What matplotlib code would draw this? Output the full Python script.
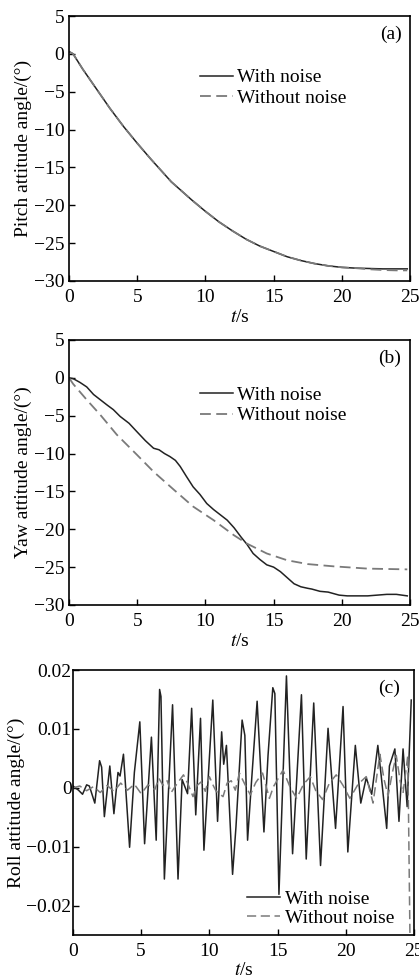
import numpy as np
import matplotlib
matplotlib.use("Agg")
import matplotlib.pyplot as plt

plt.rcParams['font.family'] = ['Liberation Serif', 'DejaVu Serif']
plt.rcParams['mathtext.fontset'] = 'stix'
plt.rcParams['font.size'] = 14

# ---- data ----
# (a) pitch
t_pitch = [0, 0.3, 1, 2, 3, 4, 5, 6, 7, 7.5, 8, 9, 10, 11, 12, 13, 14, 15, 16, 17,
           18, 19, 20, 21, 22, 23, 24, 24.8]
pitch_noise = [0.3, 0.0, -2.0, -4.6, -7.2, -9.6, -11.8, -13.9, -15.9, -16.9, -17.7,
               -19.3, -20.8, -22.2, -23.4, -24.5, -25.4, -26.1, -26.8, -27.3, -27.7,
               -28.0, -28.2, -28.3, -28.35, -28.4, -28.4, -28.4]
pitch_clean = [0.3, 0.0, -2.0, -4.6, -7.2, -9.6, -11.8, -13.9, -15.9, -16.9, -17.7,
               -19.3, -20.8, -22.2, -23.4, -24.5, -25.4, -26.1, -26.8, -27.3, -27.7,
               -28.0, -28.2, -28.3, -28.45, -28.55, -28.6, -28.6]

# (b) yaw
t_yaw_n = [0, 0.3, 0.8, 1.3, 1.8, 2.3, 2.8, 3.25, 3.75, 4.4, 4.97, 5.6, 6.2, 6.6, 7.0,
           7.4, 7.8, 8.15, 8.6, 9.1, 9.6, 10.1, 10.6, 11.1, 11.6, 12.1, 12.6, 13.05,
           13.5, 14.0, 14.5, 15.0, 15.5, 16.0, 16.5, 17.0, 17.5, 17.8, 18.4, 19.0,
           19.4, 19.8, 20.4, 21.0, 21.9, 22.6, 23.3, 24.0, 24.8]
yaw_noise = [0, -0.1, -0.6, -1.2, -2.2, -2.9, -3.6, -4.2, -5.1, -6.0, -7.1, -8.3, -9.3,
             -9.5, -10.0, -10.4, -10.9, -11.7, -13.0, -14.4, -15.4, -16.6, -17.4, -18.1,
             -18.8, -19.8, -21.0, -22.0, -23.2, -24.0, -24.7, -25.0, -25.6, -26.4, -27.2,
             -27.6, -27.8, -27.9, -28.2, -28.3, -28.5, -28.7, -28.8, -28.8, -28.8, -28.7,
             -28.6, -28.6, -28.8]
t_yaw_c = [0, 0.3, 1.3, 2.3, 3.5, 5, 6.2, 7.7, 9.1, 10.6, 12.1, 13.05, 14.5, 16, 17.5,
           19.4, 21.9, 24.8]
yaw_clean = [0, -0.8, -2.9, -4.9, -7.5, -10.2, -12.4, -14.8, -17.0, -18.8, -20.8, -21.9,
             -23.2, -24.1, -24.6, -24.9, -25.2, -25.3]

# (c) roll, in units of 0.001 deg
t_roll_n = [0, 0.4, 0.7, 1.0, 1.2, 1.6, 1.95, 2.1, 2.3, 2.7, 3.0, 3.3, 3.45, 3.7, 4.15,
            4.5, 4.9, 5.25, 5.75, 6.1, 6.35, 6.45, 6.7, 7.3, 7.7, 8.0, 8.4, 8.7, 9.0,
            9.35, 9.6, 10.25, 10.6, 10.9, 11.05, 11.25, 11.7, 11.95, 12.4, 12.6, 12.8,
            13.1, 13.5, 14.0, 14.3, 14.65, 14.8, 15.1, 15.65, 16.1, 16.75, 17.1, 17.65,
            18.15, 18.7, 19.25, 19.8, 20.15, 20.7, 21.1, 21.5, 21.9, 22.35, 22.6, 23.0,
            23.2, 23.6, 23.9, 24.2, 24.5, 24.8]
roll_noise = [0.3, -0.4, -1.1, 0.5, 0.3, -2.6, 4.6, 3.5, -4.9, 3.7, -4.4, 2.6, 2.0, 5.7,
              -10.1, 2.6, 11.2, -9.5, 8.6, -8.9, 16.7, 15.5, -15.5, 14.1, -15.5, 1.4,
              -1.0, 13.5, -4.6, 11.8, -10.6, 14.9, -5.7, 9.5, 4.0, 7.2, -14.7, -6.6, 11.5,
              8.9, -8.9, 1.4, 14.7, -7.5, 5.5, 17.0, 16.0, -18.1, 19.0, -11.2, 15.8,
              -12.1, 14.4, -13.2, 10.1, -6.9, 13.8, -10.9, 7.2, -2.6, 1.7, -1.1, 7.2,
              2.0, -6.9, 3.7, 6.6, -5.7, 6.6, -3.2, 14.9]
t_roll_c = [0, 0.5, 1.0, 1.5, 2.0, 2.5, 3.0, 3.5, 4.0, 4.5, 5.0, 5.5, 6.0, 6.3, 6.6, 6.9,
            7.2, 7.6, 8.1, 8.4, 8.8, 9.1, 9.4, 9.7, 10.0, 10.3, 10.5, 11.0, 11.3, 11.6,
            11.9, 12.2, 12.6, 13.0, 13.4, 13.9, 14.4, 14.7, 14.9, 15.4, 15.9, 16.4,
            16.9, 17.4, 17.8, 18.3, 18.8, 19.3, 19.8, 20.3, 20.9, 21.5, 22.0, 22.5,
            22.8, 23.1, 23.4, 23.7, 24.0, 24.2, 24.55, 24.73]
roll_clean = [0, 0.3, -0.5, 0.2, -0.8, 0.4, -0.6, 0.8, -0.4, 0.6, -1.0, 0.5, -0.3, 1.6,
              0.4, 1.2, -0.8, 0.6, 2.2, 0.8, -1.5, 0.4, 1.0, -0.6, 1.9, 0.3, -0.6, -1.5,
              0.8, 1.2, -0.4, 2.5, 0.6, -1.2, 0.9, 2.5, -1.8, 0.2, 1.0, 3.0, 0.2, -1.8,
              0.6, 1.9, -0.5, -2.0, 0.8, 2.2, 0.4, -1.8, 0.6, 1.9, -2.6, 5.7, 1.5, -1.4,
              2.4, 5.5, 1.0, -0.9, 5.5, -30.0]

c_noise = '#222222'
c_clean = '#7a7a7a'
dash = (0, (6, 3))


def style(ax):
    ax.tick_params(direction='in', length=4, width=1, top=False, right=False)
    ax.tick_params(axis='x', pad=6)
    for s in ax.spines.values():
        s.set_linewidth(1.2)


fig = plt.figure(figsize=(4.19, 9.77), dpi=100)

# (a)
ax1 = fig.add_axes([0.1647, 0.7124, 0.8138, 0.2712])
ax1.plot(t_pitch, pitch_noise, color=c_noise, lw=1.1, label='With noise')
ax1.plot(t_pitch, pitch_clean, color=c_clean, lw=1.3, ls=dash, label='Without noise')
ax1.set_xlim(0, 25)
ax1.set_ylim(-30, 5)
ax1.set_xticks([0, 5, 10, 15, 20, 25])
ax1.set_yticks([5, 0, -5, -10, -15, -20, -25, -30])
ax1.set_xlabel('$t$/s', labelpad=2)
ax1.set_ylabel('Pitch attitude angle/(°)', labelpad=1)
ax1.legend(loc='upper left', bbox_to_anchor=(0.36, 0.83), frameon=False,
           handlelength=1.7, handletextpad=0.25, borderaxespad=0, labelspacing=0.15)
ax1.text(0.975, 0.93, '(a)', transform=ax1.transAxes, ha='right', va='center')
style(ax1)

# (b)
ax2 = fig.add_axes([0.1647, 0.3808, 0.8138, 0.2712])
ax2.plot(t_yaw_n, yaw_noise, color=c_noise, lw=1.1, label='With noise')
ax2.plot(t_yaw_c, yaw_clean, color=c_clean, lw=1.3, ls=dash, label='Without noise')
ax2.set_xlim(0, 25)
ax2.set_ylim(-30, 5)
ax2.set_xticks([0, 5, 10, 15, 20, 25])
ax2.set_yticks([5, 0, -5, -10, -15, -20, -25, -30])
ax2.set_xlabel('$t$/s', labelpad=2)
ax2.set_ylabel('Yaw attitude angle/(°)', labelpad=1)
ax2.legend(loc='upper left', bbox_to_anchor=(0.36, 0.855), frameon=False,
           handlelength=1.7, handletextpad=0.25, borderaxespad=0, labelspacing=0.15)
ax2.text(0.975, 0.93, '(b)', transform=ax2.transAxes, ha='right', va='center')
style(ax2)

# (c)
ax3 = fig.add_axes([0.1742, 0.043, 0.8138, 0.2712])
ax3.plot(t_roll_n, np.array(roll_noise) / 1000, color=c_noise, lw=1.1, label='With noise')
ax3.plot(t_roll_c, np.array(roll_clean) / 1000, color=c_clean, lw=1.1, ls=dash,
         label='Without noise')
ax3.set_xlim(0, 25)
ax3.set_ylim(-0.025, 0.02)
ax3.set_xticks([0, 5, 10, 15, 20, 25])
ax3.set_yticks([0.02, 0.01, 0, -0.01, -0.02])
ax3.set_yticklabels(['0.02', '0.01', '0', '\u22120.01', '\u22120.02'])
ax3.set_xlabel('$t$/s', labelpad=1)
ax3.set_ylabel('Roll attitude angle/(°)', labelpad=1)
ax3.legend(loc='lower right', bbox_to_anchor=(0.965, 0.0), frameon=False,
           handlelength=1.7, handletextpad=0.25, borderaxespad=0, labelspacing=0.1)
ax3.text(0.96, 0.93, '(c)', transform=ax3.transAxes, ha='right', va='center')
style(ax3)
ax3.tick_params(axis='y', pad=1)

fig.savefig('out.png', dpi=100)
